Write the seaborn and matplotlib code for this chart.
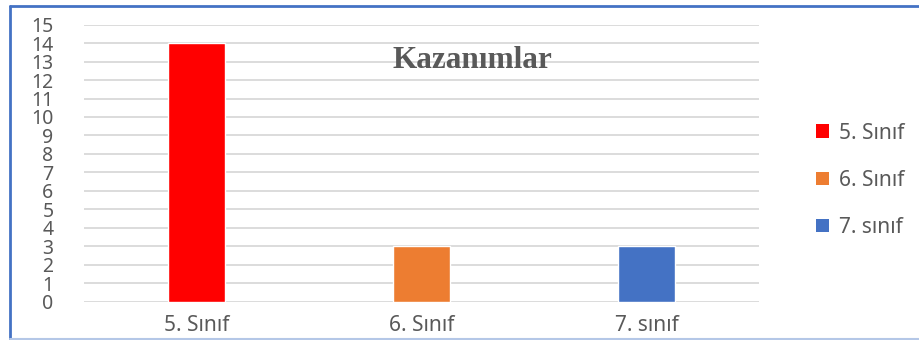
import matplotlib
matplotlib.use("Agg")
import matplotlib.pyplot as plt
import seaborn as sns
import pandas as pd
from matplotlib.patches import Patch
from matplotlib.lines import Line2D

categories = ["5. Sınıf", "6. Sınıf", "7. sınıf"]
values = [14, 3, 3]
colors = ["#ff0000", "#ed7d31", "#4472c4"]
y_ticks = list(range(0, 16))
title = "Kazanımlar"

sns.set_theme(style="white")
plt.rcParams["font.family"] = ["Noto Sans", "DejaVu Sans"]

text_grey = "#595959"
df = pd.DataFrame({"sinif": categories, "kazanim": values})

fig = plt.figure(figsize=(9.2, 3.4), dpi=100)
ax = fig.add_axes([84 / 920, 1 - 301.5 / 340, (759 - 84) / 920, (301.5 - 24.7) / 340])

sns.barplot(data=df, x="sinif", y="kazanim", hue="sinif", palette=colors,
            dodge=False, width=0.253, legend=False, ax=ax, saturation=1)

ax.set_ylim(0, 15)
ax.set_xlim(-0.5, 2.5)
ax.set_yticks(y_ticks)
ax.yaxis.grid(True, color="#d9d9d9", linewidth=1.3)
ax.set_axisbelow(True)
for s in ax.spines.values():
    s.set_visible(False)
ax.set_xlabel("")
ax.set_ylabel("")
ax.tick_params(axis="y", length=0, pad=22, labelsize=14, labelcolor=text_grey)
ax.tick_params(axis="x", length=0, pad=10, labelsize=15, labelcolor=text_grey)

ax.text(0.576, 0.87, title, transform=ax.transAxes, ha="center", va="center",
        family="Liberation Serif", fontweight="bold", fontsize=22.5, color=text_grey)

handles = [Patch(facecolor=c, edgecolor="none") for c in colors]
fig.legend(handles, categories, loc="upper left", bbox_to_anchor=(797 / 920, 1 - 104 / 340),
           frameon=False, fontsize=15, labelcolor=text_grey, handlelength=0.65,
           handleheight=0.65, handletextpad=0.45, labelspacing=1.25)

# chart frame: blue on the top and left, pale at the bottom
fig.add_artist(Line2D([10 / 920, 1], [1 - 6 / 340] * 2, transform=fig.transFigure,
                      color="#4472c4", linewidth=2))
fig.add_artist(Line2D([10 / 920] * 2, [1 - 6 / 340, 1 / 340], transform=fig.transFigure,
                      color="#4472c4", linewidth=2))
fig.add_artist(Line2D([10 / 920, 1], [1 / 340] * 2, transform=fig.transFigure,
                      color="#b4c7e7", linewidth=1.5))

fig.savefig("out.png", dpi=100)
